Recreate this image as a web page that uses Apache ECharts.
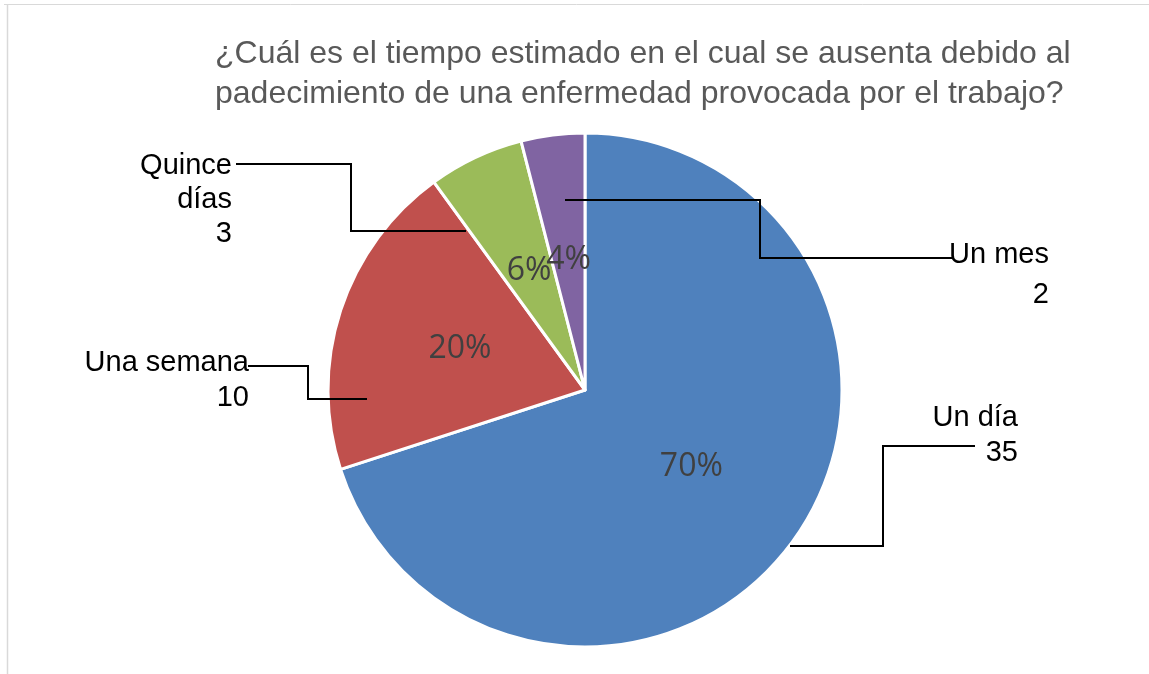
<!DOCTYPE html>
<html>
<head>
<meta charset="utf-8">
<script src="https://cdn.jsdelivr.net/npm/echarts@6/dist/echarts.min.js"></script>
<style>
  html, body { margin: 0; padding: 0; background: #ffffff; }
  #chart { width: 1149px; height: 674px; }
</style>
</head>
<body>
<div id="chart"></div>
<script>
// Survey answers: estimated absence due to a work-related illness
const categories = ['Un día', 'Una semana', 'Quince días', 'Un mes'];
const values = [35, 10, 3, 2];
const calloutNames = ['Un día', 'Una semana', 'Quince\ndías', 'Un mes'];
const titleLines = [
  '¿Cuál es el tiempo estimado en el cual se ausenta debido al',
  'padecimiento de una enfermedad provocada por el trabajo?'
];

const sliceColors = ['#4F81BD', '#C0504D', '#9BBB59', '#8064A2'];

const PIE_CENTER = [585, 390];
const PIE_RADIUS = 257;

// Callout layout, as offsets from the pie centre:
// text = right/middle anchor of the label block, path = elbowed leader line.
const calloutLayout = [
  { text: [433, 45],   lineHeight: 35, path: [[205, 156], [298, 156], [298, 56], [390, 56]] },
  { text: [-336, -10], lineHeight: 35, path: [[-218, 9], [-277, 9], [-277, -24], [-337, -24]] },
  { text: [-353, -190], lineHeight: 34, path: [[-119, -159], [-234, -159], [-234, -226], [-349, -226]] },
  { text: [464, -115], lineHeight: 40, path: [[-20, -190], [175, -190], [175, -132], [367, -132]] }
];

const at = (o) => [PIE_CENTER[0] + o[0], PIE_CENTER[1] + o[1]];

const pieBase = {
  type: 'pie',
  center: PIE_CENTER,
  radius: PIE_RADIUS,
  startAngle: 90,
  clockwise: true,
  silent: true,
  emphasis: { disabled: true }
};

const chart = echarts.init(document.getElementById('chart'), null, { renderer: 'canvas' });

chart.setOption({
  animation: false,
  backgroundColor: '#ffffff',
  color: sliceColors,
  title: {
    text: titleLines.join('\n'),
    left: 215,
    top: 34,
    padding: 0,
    textStyle: {
      fontFamily: 'Liberation Sans',
      fontSize: 32,
      fontWeight: 'normal',
      lineHeight: 40,
      color: '#595959'
    }
  },
  graphic: [
    { type: 'line', silent: true, shape: { x1: 4, y1: 4.5, x2: 1149, y2: 4.5 }, style: { stroke: '#d9d9d9', lineWidth: 1 } },
    { type: 'line', silent: true, shape: { x1: 7.5, y1: 4, x2: 7.5, y2: 674 }, style: { stroke: '#d9d9d9', lineWidth: 1.5 } }
  ],
  series: [
    Object.assign({}, pieBase, {
      // the slices
      z: 2,
      itemStyle: { borderColor: '#ffffff', borderWidth: 3 },
      label: { show: false },
      labelLine: { show: false },
      data: categories.map((name, i) => ({ name: name, value: values[i] }))
    }),
    Object.assign({}, pieBase, {
      // callouts with elbowed leader lines, drawn above the slices
      z: 4,
      avoidLabelOverlap: false,
      itemStyle: { color: 'rgba(0,0,0,0)', borderWidth: 0 },
      label: {
        show: true,
        position: 'outside',
        fontFamily: 'Liberation Sans',
        fontSize: 29,
        color: '#000000',
        align: 'right',
        formatter: (p) => calloutNames[p.dataIndex] + '\n' + p.value
      },
      labelLine: {
        show: true,
        lineStyle: { color: '#000000', width: 2, cap: 'butt', join: 'miter' }
      },
      labelLayout: (params) => {
        const c = calloutLayout[params.dataIndex];
        const pos = at(c.text);
        return {
          x: pos[0],
          y: pos[1],
          align: 'right',
          verticalAlign: 'middle',
          hideOverlap: false,
          labelLinePoints: c.path.map(at)
        };
      },
      data: categories.map((name, i) => ({
        name: name,
        value: values[i],
        label: { lineHeight: calloutLayout[i].lineHeight }
      }))
    }),
    Object.assign({}, pieBase, {
      // percentage labels inside the slices
      z: 6,
      itemStyle: { color: 'rgba(0,0,0,0)', borderWidth: 0 },
      label: {
        show: true,
        position: 'inside',
        fontFamily: 'Open Sans',
        fontSize: 32,
        color: '#404040',
        textBorderWidth: 0,
        formatter: (p) => Math.round(p.percent) + '%'
      },
      labelLine: { show: false },
      labelLayout: { hideOverlap: false, moveOverlap: null },
      data: categories.map((name, i) => ({ name: name, value: values[i] }))
    })
  ]
});
</script>
</body>
</html>
